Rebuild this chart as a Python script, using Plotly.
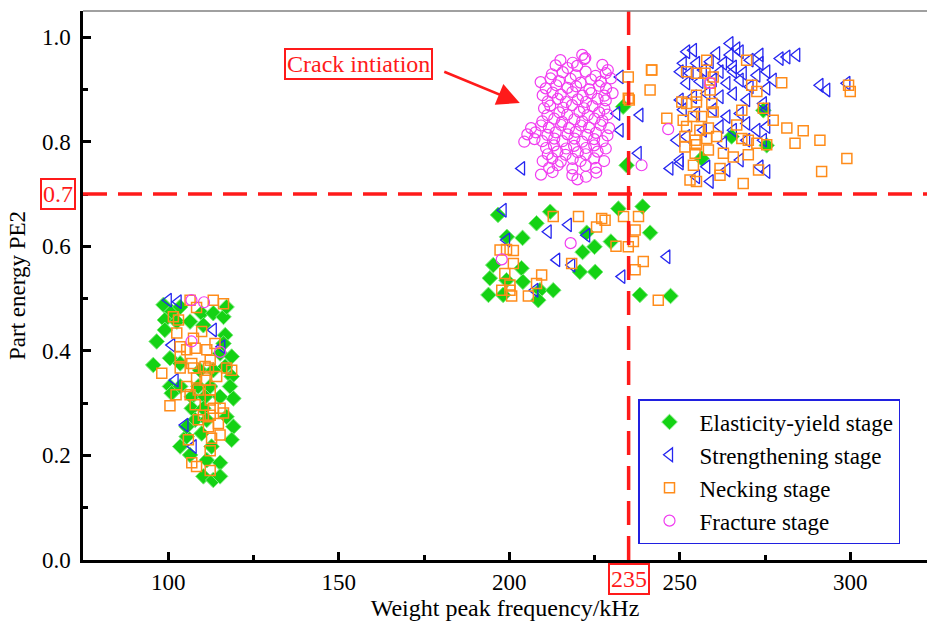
import plotly.graph_objects as go

# ---------------- data ----------------
elastic_x = [98.6, 101.0, 103.5, 99.0, 99.0, 102.5, 106.4, 109.8, 113.2, 116.2, 117.1, 96.6, 110.3, 116.7,
             115.2, 118.6, 95.6, 100.5, 103.5, 116.7, 118.6, 100.5, 103.5, 108.8, 112.3, 118.1, 119.1, 106.9,
             110.8, 115.2, 106.9, 110.3, 107.9, 111.3, 117.1, 119.1, 105.4, 109.8, 118.6, 103.5, 112.7, 106.4,
             111.3, 115.2, 110.3, 113.2, 115.2, 116.2, 109.3, 113.2, 101.0, 105.4,
             196.7, 199.3, 203.9, 208.0, 212.0, 222.7, 225.0, 221.5, 229.8, 232.0, 239.1, 241.3, 195.3, 194.3,
             193.9, 203.6, 204.0, 199.2, 209.0, 212.9, 220.7, 225.2, 238.3, 247.3, 198.2, 208.5,
             233.4, 234.4, 274.5, 265.2, 256.4, 275.5]
elastic_y = [0.488, 0.475, 0.484, 0.459, 0.440, 0.456, 0.456, 0.472, 0.472, 0.465, 0.484, 0.418, 0.449, 0.430,
             0.395, 0.389, 0.373, 0.386, 0.376, 0.370, 0.351, 0.332, 0.332, 0.332, 0.332, 0.332, 0.309, 0.312,
             0.312, 0.312, 0.290, 0.290, 0.268, 0.268, 0.274, 0.255, 0.236, 0.242, 0.230, 0.217, 0.217, 0.201,
             0.191, 0.186, 0.160, 0.153, 0.160, 0.414, 0.363, 0.363, 0.319, 0.255,
             0.660, 0.618, 0.616, 0.644, 0.666, 0.626, 0.599, 0.589, 0.609, 0.672, 0.676, 0.626, 0.564, 0.539,
             0.507, 0.558, 0.532, 0.535, 0.516, 0.516, 0.551, 0.551, 0.507, 0.505, 0.507, 0.497,
             0.867, 0.755, 0.860, 0.810, 0.768, 0.793]

strength_x = [264.7, 266.7, 252.0, 254.0, 260.8, 264.7, 267.7, 273.5, 279.4, 281.4, 284.3, 251.0, 254.9, 258.9,
              262.8, 265.7, 270.6, 273.5, 250.1, 253.0, 256.9, 261.8, 265.7, 268.6, 272.6, 275.5, 277.4, 252.0,
              255.9, 259.8, 263.8, 267.7, 270.6, 275.5, 291.1, 293.1, 299.0, 250.1, 254.0, 257.9, 261.8, 265.7,
              269.6, 274.5, 275.5, 251.0, 254.9, 259.8, 263.8, 267.7, 269.6, 272.6, 275.5, 249.1, 252.0, 256.9,
              261.8, 265.7, 262.8, 269.6, 274.5, 250.1, 247.1, 250.1, 257.9, 263.8, 267.7, 273.5, 275.5, 254.9,
              258.9, 238.3, 237.8, 232.5, 232.5, 231.5, 203.6,
              198.2, 211.4, 217.3, 222.7, 213.9, 218.3, 199.2, 233.0, 246.2, 207.5,
              100.0, 102.9, 113.2, 101.0, 115.7, 102.0, 104.9, 107.3]
strength_y = [0.988, 0.978, 0.972, 0.975, 0.969, 0.966, 0.972, 0.966, 0.959, 0.962, 0.966, 0.950, 0.950, 0.953,
              0.950, 0.943, 0.956, 0.950, 0.934, 0.931, 0.937, 0.934, 0.934, 0.931, 0.927, 0.934, 0.918, 0.912,
              0.915, 0.918, 0.912, 0.918, 0.905, 0.902, 0.908, 0.899, 0.912, 0.880, 0.886, 0.892, 0.886, 0.892,
              0.880, 0.873, 0.861, 0.861, 0.854, 0.861, 0.848, 0.854, 0.835, 0.822, 0.829, 0.803, 0.810, 0.822,
              0.829, 0.822, 0.797, 0.803, 0.803, 0.765, 0.749, 0.759, 0.752, 0.746, 0.765, 0.752, 0.743, 0.733,
              0.724, 0.851, 0.778, 0.822, 0.924, 0.854, 0.749,
              0.669, 0.628, 0.641, 0.621, 0.574, 0.564, 0.612, 0.542, 0.580, 0.516,
              0.497, 0.494, 0.440, 0.411, 0.408, 0.344, 0.258, 0.217]

necking_x = [241.7, 241.3, 234.9, 235.2, 257.9, 269.6, 252.0, 254.9, 257.4, 259.8, 279.9, 271.1, 272.6, 258.9,
             258.9, 254.9, 250.6, 252.0, 254.9, 259.4, 274.5, 259.8, 268.2, 246.2, 251.0, 254.0, 256.4, 277.4,
             266.7, 281.4, 286.2, 291.1, 283.8, 252.0, 255.9, 258.4, 260.8, 251.5, 254.5, 257.9, 268.2, 270.1,
             272.6, 275.5, 251.5, 254.9, 258.4, 262.8, 265.7, 270.1, 254.5, 254.0, 261.8, 261.8, 273.1, 299.0,
             291.6, 268.6, 253.0, 254.9, 300.0, 299.5, 241.8, 234.9,
             212.9, 220.3, 227.1, 228.1, 225.6, 233.5, 237.9, 236.9, 236.4, 234.9, 231.3, 239.3, 236.9, 218.3,
             197.3, 199.2, 201.2, 201.2, 198.7, 209.5, 208.0, 200.2, 200.2, 197.8, 200.7, 205.6, 243.7,
             106.4, 113.2, 116.2, 108.3, 101.5, 103.0, 109.8, 102.5, 113.7, 107.4, 103.5, 105.4, 107.9, 111.3,
             103.5, 106.9, 112.3, 98.1, 103.5, 107.4, 110.8, 111.8, 114.2, 117.1, 118.6, 108.3, 110.8, 105.4,
             108.8, 112.3, 102.3, 106.4, 100.5, 107.9, 112.3, 113.2, 115.2, 110.3, 112.3, 116.2, 108.8, 111.8,
             114.7, 115.2, 105.9, 112.7, 112.3, 106.9, 108.3, 112.3]
necking_y = [0.937, 0.899, 0.924, 0.880, 0.956, 0.956, 0.934, 0.931, 0.931, 0.924, 0.913, 0.908, 0.896, 0.912,
             0.899, 0.889, 0.876, 0.873, 0.876, 0.873, 0.864, 0.857, 0.860, 0.845, 0.841, 0.848, 0.848, 0.841,
             0.832, 0.826, 0.821, 0.803, 0.797, 0.829, 0.822, 0.826, 0.810, 0.810, 0.803, 0.806, 0.806, 0.803,
             0.797, 0.794, 0.790, 0.794, 0.784, 0.778, 0.771, 0.775, 0.778, 0.755, 0.749, 0.736, 0.746, 0.768,
             0.743, 0.720, 0.727, 0.724, 0.896, 0.908, 0.937, 0.883,
             0.657, 0.657, 0.653, 0.650, 0.637, 0.657, 0.657, 0.631, 0.609, 0.599, 0.600, 0.571, 0.555, 0.567,
             0.593, 0.594, 0.592, 0.567, 0.548, 0.545, 0.529, 0.526, 0.516, 0.516, 0.505, 0.505, 0.497,
             0.497, 0.497, 0.490, 0.483, 0.465, 0.459, 0.437, 0.434, 0.414, 0.424, 0.408, 0.402, 0.405, 0.402,
             0.389, 0.376, 0.382, 0.357, 0.367, 0.367, 0.370, 0.367, 0.351, 0.367, 0.363, 0.348, 0.344, 0.332,
             0.325, 0.325, 0.316, 0.316, 0.295, 0.297, 0.306, 0.290, 0.290, 0.277, 0.277, 0.281, 0.268, 0.255,
             0.261, 0.239, 0.230, 0.233, 0.209, 0.186, 0.179, 0.171]

fracture_x = [221.4, 222.3,
              215.0, 218.6, 222.0,
              213.6, 217.1, 219.9, 227.3, 228.9,
              212.5, 215.7, 219.5, 222.4, 225.3, 228.3,
              209.2, 212.1, 214.6, 218.0, 220.9, 224.0, 226.9, 229.8,
              210.7, 213.8, 217.1, 219.6, 223.5, 226.3, 228.4,
              209.8, 212.7, 215.1, 218.5, 221.5, 224.0, 227.9, 230.3,
              211.3, 214.2, 216.6, 220.1, 222.5, 225.9, 228.3,
              210.2, 212.0, 215.8, 218.4, 221.9, 224.4, 227.9,
              211.2, 214.7, 217.0, 220.6, 223.0, 226.4, 228.8,
              209.7, 213.2, 215.5, 219.1, 221.4, 225.0, 227.3,
              206.4, 209.3, 211.6, 215.2, 217.5, 221.0, 223.4, 226.8, 229.3,
              205.3, 207.7, 211.2, 213.6, 217.1, 219.5, 222.9, 225.4, 228.8,
              204.4, 207.4, 209.7, 213.2, 215.6, 219.1, 221.4, 224.9, 227.4,
              210.8, 213.1, 216.7, 219.0, 222.5, 224.9, 228.3,
              211.3, 214.1, 216.5, 220.1, 222.4, 225.9,
              209.8, 212.6, 215.1, 218.6, 220.9, 224.9, 227.8,
              211.7, 214.2, 218.5, 222.4, 225.4,
              209.3, 212.7, 218.5, 225.5,
              220.0, 222.5,
              238.8, 258.9, 246.6, 197.8, 218.0, 106.8, 106.8, 115.2, 110.5]
fracture_y = [0.966, 0.960,
              0.956, 0.951, 0.958,
              0.946, 0.941, 0.945, 0.947, 0.937,
              0.929, 0.933, 0.927, 0.934, 0.926, 0.931,
              0.914, 0.921, 0.916, 0.920, 0.913, 0.919, 0.915, 0.921,
              0.902, 0.908, 0.903, 0.906, 0.900, 0.907, 0.902,
              0.889, 0.894, 0.890, 0.895, 0.888, 0.893, 0.888, 0.893,
              0.877, 0.882, 0.876, 0.881, 0.876, 0.882, 0.879,
              0.864, 0.869, 0.865, 0.870, 0.864, 0.868, 0.863,
              0.851, 0.856, 0.852, 0.857, 0.851, 0.856, 0.852,
              0.839, 0.844, 0.838, 0.843, 0.839, 0.844, 0.840,
              0.826, 0.831, 0.827, 0.832, 0.826, 0.831, 0.827, 0.832, 0.826,
              0.814, 0.818, 0.813, 0.818, 0.814, 0.819, 0.813, 0.817, 0.812,
              0.800, 0.805, 0.801, 0.806, 0.801, 0.806, 0.800, 0.805, 0.801,
              0.788, 0.793, 0.787, 0.792, 0.788, 0.793, 0.787,
              0.776, 0.781, 0.775, 0.780, 0.776, 0.781,
              0.763, 0.768, 0.762, 0.767, 0.763, 0.768, 0.763,
              0.750, 0.755, 0.749, 0.754, 0.750,
              0.737, 0.742, 0.736, 0.741,
              0.728, 0.733,
              0.755, 0.912, 0.824, 0.575, 0.606, 0.497, 0.418, 0.398, 0.493]

x_ticks = [100, 150, 200, 250, 300]
y_ticks = [0.0, 0.2, 0.4, 0.6, 0.8, 1.0]
x_range = [75, 322.5]
y_range = [0, 1.05]
threshold_x = 235
threshold_y = 0.7
arrow_tip = (203.1, 0.874)
arrow_tail = (180.5, 0.935)

FONT = "Liberation Serif"
RED = "#FF1A1A"

fig = go.Figure()
fig.add_trace(go.Scatter(x=elastic_x, y=elastic_y, mode="markers", name="Elasticity-yield stage",
                         legendgroup="a",
                         marker=dict(symbol="diamond", size=12, color="#14D214",
                                     line=dict(color="#7CEB7C", width=1))))
fig.add_trace(go.Scatter(x=strength_x, y=strength_y, mode="markers", name="Strengthening stage",
                         legendgroup="b",
                         marker=dict(symbol="triangle-left-open", size=12, color="#2626F0",
                                     line=dict(width=1.3))))
fig.add_trace(go.Scatter(x=necking_x, y=necking_y, mode="markers", name="Necking stage",
                         legendgroup="c",
                         marker=dict(symbol="square-open", size=10, color="#FF8C1A",
                                     line=dict(width=1.5))))
fig.add_trace(go.Scatter(x=fracture_x, y=fracture_y, mode="markers", name="Fracture stage",
                         legendgroup="d",
                         marker=dict(symbol="circle-open", size=11, color="#F03CF0",
                                     line=dict(width=1.2))))

# threshold lines
fig.add_shape(type="line", xref="paper", yref="y", x0=0, x1=1, y0=threshold_y, y1=threshold_y,
              line=dict(color=RED, width=3.5, dash="24px,11px"))
fig.add_shape(type="line", xref="x", yref="paper", x0=threshold_x, x1=threshold_x, y0=0, y1=1,
              line=dict(color=RED, width=3.5, dash="24px,11px"))
# top frame line
fig.add_shape(type="line", xref="paper", yref="paper", x0=0, x1=1, y0=1, y1=1,
              line=dict(color="#808080", width=1.5))

# annotations
fig.add_annotation(x=arrow_tip[0], y=arrow_tip[1], ax=arrow_tail[0], ay=arrow_tail[1],
                   axref="x", ayref="y", xref="x", yref="y", text="", showarrow=True,
                   arrowhead=2, arrowsize=1.8, arrowwidth=2.5, arrowcolor=RED)
fig.add_annotation(x=(358 - 83) / 844, y=(560 - 64) / 549, xref="paper", yref="paper",
                   xanchor="center", yanchor="middle",
                   text="Crack intiation", showarrow=False,
                   font=dict(family=FONT, size=24, color=RED),
                   bordercolor=RED, borderwidth=2, borderpad=1, bgcolor="white")
fig.add_annotation(x=0, y=threshold_y, xref="paper", yref="y", xanchor="right", yanchor="middle",
                   xshift=-7, text="0.7", showarrow=False,
                   font=dict(family=FONT, size=24, color=RED),
                   bordercolor=RED, borderwidth=2, borderpad=1, bgcolor="white")
fig.add_annotation(x=threshold_x, y=0, xref="x", yref="paper", yanchor="top", xanchor="center",
                   yshift=-3, text="235", showarrow=False,
                   font=dict(family=FONT, size=24, color=RED),
                   bordercolor=RED, borderwidth=2, borderpad=1, bgcolor="white")

fig.update_layout(
    width=927, height=627,
    margin=dict(l=83, r=0, t=11, b=67),
    paper_bgcolor="white", plot_bgcolor="white",
    font=dict(family=FONT, size=23, color="black"),
    legend=dict(x=(638 - 83) / 844, y=(560 - 399) / 549, xanchor="left", yanchor="top",
                bordercolor="#2020E0", borderwidth=1.5, bgcolor="white",
                font=dict(family=FONT, size=23), tracegroupgap=0, itemwidth=50,
                traceorder="grouped"),
    xaxis=dict(range=x_range, tickvals=x_ticks, ticks="inside", ticklen=8, tickwidth=2.5,
               tickcolor="black", showline=True, linecolor="black", linewidth=2.5,
               showgrid=False, zeroline=False,
               minor=dict(dtick=25, tick0=75, ticks="inside", ticklen=5, tickwidth=2.5, tickcolor="black"),
               title=dict(text="Weight peak frequency/kHz", font=dict(family=FONT, size=24), standoff=4),
               tickfont=dict(family=FONT, size=23)),
    yaxis=dict(range=y_range, tickvals=y_ticks, tickformat=".1f", ticks="inside", ticklen=8,
               tickwidth=2.5, tickcolor="black", showline=True, linecolor="black", linewidth=2.5,
               showgrid=False, zeroline=False,
               minor=dict(dtick=0.1, tick0=0, ticks="inside", ticklen=5, tickwidth=2.5, tickcolor="black"),
               title=dict(text="Part energy PE2", font=dict(family=FONT, size=23), standoff=10),
               tickfont=dict(family=FONT, size=23), ticklabelstandoff=5),
)

fig.write_html("out.html")
